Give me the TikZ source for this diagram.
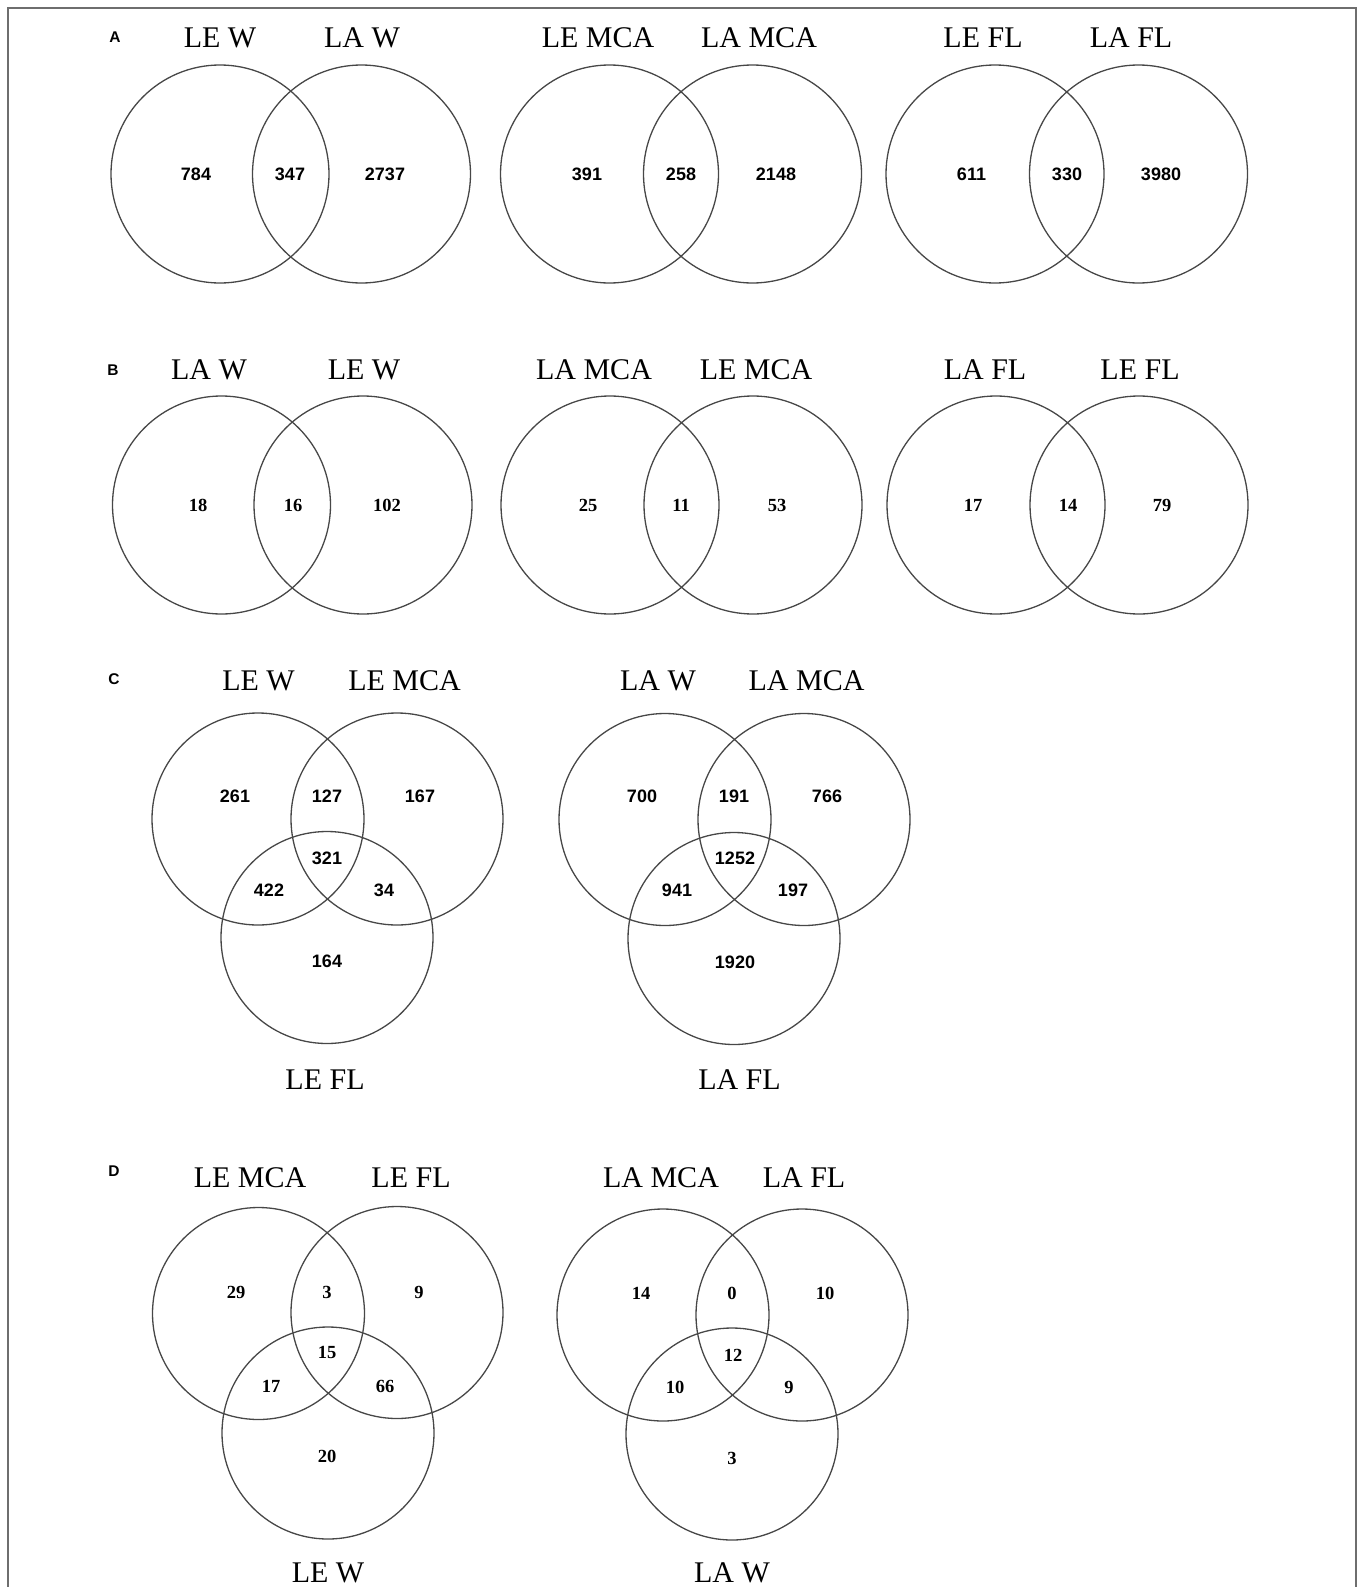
\documentclass[tikz,border=0pt]{standalone}
\usepackage{fontspec}
\setmainfont{Liberation Serif}
\newfontfamily\numsans{Liberation Sans}
\usetikzlibrary{shapes,positioning}
\usepackage{xcolor}
\definecolor{vennline}{HTML}{474747}
\definecolor{framegray}{HTML}{6E6E6E}

\begin{document}
\begin{tikzpicture}[x=1pt, y=-1pt,
  venn/.style={circle, draw=vennline, line width=1.3pt, minimum size=218pt, inner sep=0pt},
  vennsm/.style={venn, minimum size=212pt},
  setlab/.style={inner sep=0pt, font=\fontsize{30}{34}\selectfont},
  numsf/.style={inner sep=0pt, font=\numsans\bfseries\fontsize{18}{20}\selectfont},
  numrm/.style={inner sep=0pt, font=\bfseries\fontsize{18.5}{21}\selectfont},
  panel/.style={inner sep=0pt, font=\numsans\bfseries\fontsize{15.5}{17}\selectfont}
]
  \useasboundingbox (0,0) rectangle (1360,1587);
  \draw[framegray, line width=1.2pt] (8,1587) -- (8,8) -- (1356,8) -- (1356,1587);

  % A
  \node[panel] (pA) at (115,37) {A};
  \node[venn] (a-lew) at (220,174) {};
  \node[venn] (a-law) at (361.5,174) {};
  \node[venn] (a-lemca) at (609.5,174) {};
  \node[venn] (a-lamca) at (752.5,174) {};
  \node[venn] (a-lefl) at (995,174) {};
  \node[venn] (a-lafl) at (1138.5,174) {};
  \node[setlab] (a-lew-t) at (220,38) {LE W};
  \node[setlab] (a-law-t) at (362,38) {LA W};
  \node[setlab] (a-lemca-t) at (598,38) {LE MCA};
  \node[setlab] (a-lamca-t) at (759,38) {LA MCA};
  \node[setlab] (a-lefl-t) at (983,38) {LE FL};
  \node[setlab] (a-lafl-t) at (1131,38) {LA FL};
  \node[numsf] (a-n1) at (196,174) {784};
  \node[numsf] (a-n2) at (290,174) {347};
  \node[numsf] (a-n3) at (385,174) {2737};
  \node[numsf] (a-n4) at (587,174) {391};
  \node[numsf] (a-n5) at (681,174) {258};
  \node[numsf] (a-n6) at (776,174) {2148};
  \node[numsf] (a-n7) at (971.5,174) {611};
  \node[numsf] (a-n8) at (1067,174) {330};
  \node[numsf] (a-n9) at (1161,174) {3980};

  % B
  \node[panel] (pB) at (113,370) {B};
  \node[venn] (b-law) at (221.5,505) {};
  \node[venn] (b-lew) at (363,505) {};
  \node[venn] (b-lamca) at (610,505) {};
  \node[venn] (b-lemca) at (753,505) {};
  \node[venn] (b-lafl) at (996,505) {};
  \node[venn] (b-lefl) at (1139,505) {};
  \node[setlab] (b-law-t) at (209,370) {LA W};
  \node[setlab] (b-lew-t) at (364,370) {LE W};
  \node[setlab] (b-lamca-t) at (594,370) {LA MCA};
  \node[setlab] (b-lemca-t) at (756,370) {LE MCA};
  \node[setlab] (b-lafl-t) at (985,370) {LA FL};
  \node[setlab] (b-lefl-t) at (1140,370) {LE FL};
  \node[numrm] (b-n1) at (198,505) {18};
  \node[numrm] (b-n2) at (293,505) {16};
  \node[numrm] (b-n3) at (387,505) {102};
  \node[numrm] (b-n4) at (588,505) {25};
  \node[numrm] (b-n5) at (681,505) {11};
  \node[numrm] (b-n6) at (777,505) {53};
  \node[numrm] (b-n7) at (973,505) {17};
  \node[numrm] (b-n8) at (1068,505) {14};
  \node[numrm] (b-n9) at (1162,505) {79};

  % C
  \node[panel] (pC) at (114,679) {C};
  \node[vennsm] (c-lew) at (258,819) {};
  \node[vennsm] (c-lemca) at (397,819) {};
  \node[vennsm] (c-lefl) at (327,937.5) {};
  \node[setlab] (c-lew-t) at (258.5,681) {LE W};
  \node[setlab] (c-lemca-t) at (404.5,681) {LE MCA};
  \node[setlab] (c-lefl-t) at (325,1080) {LE FL};
  \node[numsf] (c-n1) at (235,796) {261};
  \node[numsf] (c-n2) at (327,796) {127};
  \node[numsf] (c-n3) at (420,796) {167};
  \node[numsf] (c-n4) at (327,858) {321};
  \node[numsf] (c-n5) at (269,890) {422};
  \node[numsf] (c-n6) at (384,890) {34};
  \node[numsf] (c-n7) at (327,961) {164};

  \node[vennsm] (c-law) at (665,819.5) {};
  \node[vennsm] (c-lamca) at (804,819.5) {};
  \node[vennsm] (c-lafl) at (734,938.5) {};
  \node[setlab] (c-law-t) at (658,681) {LA W};
  \node[setlab] (c-lamca-t) at (806.5,681) {LA MCA};
  \node[setlab] (c-lafl-t) at (739.5,1080) {LA FL};
  \node[numsf] (c-n8) at (642,796) {700};
  \node[numsf] (c-n9) at (734,796) {191};
  \node[numsf] (c-n10) at (827,796) {766};
  \node[numsf] (c-n11) at (735,858) {1252};
  \node[numsf] (c-n12) at (677,890) {941};
  \node[numsf] (c-n13) at (793,890) {197};
  \node[numsf] (c-n14) at (735,962) {1920};

  % D
  \node[panel] (pD) at (114,1171) {D};
  \node[vennsm] (d-lemca) at (258.5,1313.5) {};
  \node[vennsm] (d-lefl) at (397,1312.5) {};
  \node[vennsm] (d-lew) at (328,1433) {};
  \node[setlab] (d-lemca-t) at (250,1178) {LE MCA};
  \node[setlab] (d-lefl-t) at (411,1178) {LE FL};
  \node[setlab] (d-lew-t) at (328,1573) {LE W};
  \node[numrm] (d-n1) at (236,1292) {29};
  \node[numrm] (d-n2) at (327,1292) {3};
  \node[numrm] (d-n3) at (419,1292) {9};
  \node[numrm] (d-n4) at (327,1352) {15};
  \node[numrm] (d-n5) at (271,1386) {17};
  \node[numrm] (d-n6) at (385,1386) {66};
  \node[numrm] (d-n7) at (327,1456) {20};

  \node[vennsm] (d-lamca) at (663,1315) {};
  \node[vennsm] (d-lafl) at (802,1315) {};
  \node[vennsm] (d-law) at (732,1434) {};
  \node[setlab] (d-lamca-t) at (661,1178) {LA MCA};
  \node[setlab] (d-lafl-t) at (804,1178) {LA FL};
  \node[setlab] (d-law-t) at (732,1573) {LA W};
  \node[numrm] (d-n8) at (641,1293) {14};
  \node[numrm] (d-n9) at (732,1293) {0};
  \node[numrm] (d-n10) at (825,1293) {10};
  \node[numrm] (d-n11) at (733,1355) {12};
  \node[numrm] (d-n12) at (675,1387) {10};
  \node[numrm] (d-n13) at (789,1387) {9};
  \node[numrm] (d-n14) at (732,1458) {3};
\end{tikzpicture}
\end{document}
